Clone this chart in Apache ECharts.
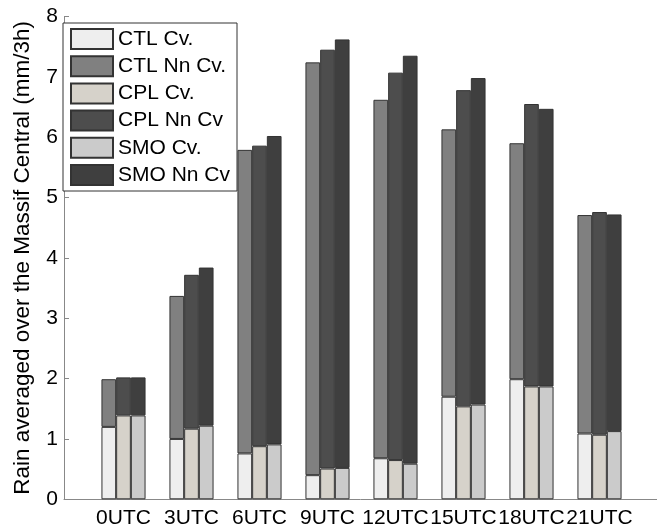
<!DOCTYPE html>
<html>
<head>
<meta charset="utf-8">
<script src="https://cdn.jsdelivr.net/npm/echarts@6/dist/echarts.min.js"></script>
<style>
html,body{margin:0;padding:0;background:#fff;}
#chart{width:657px;height:530px;}
</style>
</head>
<body>
<div id="chart"></div>
<script>
const categories = ['0UTC','3UTC','6UTC','9UTC','12UTC','15UTC','18UTC','21UTC'];
const yTicks = [0,1,2,3,4,5,6,7,8];
const ctlCv = [1.20, 1.00, 0.76, 0.40, 0.68, 1.70, 1.99, 1.09];
const ctlNnCv = [0.79, 2.37, 5.03, 6.84, 5.94, 4.43, 3.91, 3.62];
const cplCv = [1.39, 1.17, 0.88, 0.51, 0.65, 1.54, 1.87, 1.07];
const cplNnCv = [0.63, 2.55, 4.98, 6.94, 6.42, 5.24, 4.68, 3.69];
const smoCv = [1.39, 1.22, 0.91, 0.52, 0.59, 1.57, 1.87, 1.13];
const smoNnCv = [0.63, 2.62, 5.11, 7.10, 6.76, 5.41, 4.60, 3.59];

const FONT = 'Liberation Sans, Arial, Helvetica, sans-serif';
const chart = echarts.init(document.getElementById('chart'), null, {renderer:'canvas'});

function bar(name, stack, data, color){
  return {
    name: name, type: 'bar', stack: stack, data: data,
    xAxisIndex: 1, yAxisIndex: 1,
    barWidth: 14.7, barGap: '0%',
    itemStyle: {color: color, borderColor: '#333', borderWidth: 1},
    emphasis: {disabled: true}
  };
}

chart.setOption({
  animation: false,
  backgroundColor: '#fff',
  textStyle: {fontFamily: FONT},
  grid: [
    {left: 64, right: 0, top: 16.5, bottom: 30.7},
    {left: 89.5, right: 23.5, top: 16.5, bottom: 30.7}
  ],
  legend: {
    orient: 'vertical', left: 63, top: 23,
    itemWidth: 42, itemHeight: 20, itemGap: 5.2,
    padding: [5, 7, 5, 7],
    borderColor: '#333', borderWidth: 1, backgroundColor: '#fff',
    textStyle: {fontSize: 21, color: '#000', fontFamily: FONT, lineHeight: 20},
    icon: 'rect',
    data: ['CTL Cv.','CTL Nn Cv.','CPL Cv.','CPL Nn Cv','SMO Cv.','SMO Nn Cv']
  },
  xAxis: [
    {type: 'value', gridIndex: 0, min: 0, max: 1,
     axisLine: {show: true, lineStyle: {color: '#888', width: 1}},
     axisTick: {show: false}, axisLabel: {show: false}, splitLine: {show: false}},
    {type: 'category', gridIndex: 1, data: categories,
     axisLine: {show: false}, axisTick: {show: false},
     axisLabel: {interval: 0, fontSize: 21, color: '#000', margin: 8, fontFamily: FONT}}
  ],
  yAxis: [
    {type: 'value', gridIndex: 0, min: yTicks[0], max: yTicks[yTicks.length-1], interval: 1,
     name: 'Rain averaged over the Massif Central (mm/3h)',
     nameLocation: 'middle', nameGap: 30,
     nameTextStyle: {fontSize: 22.5, color: '#000', fontFamily: FONT},
     axisLine: {show: true, lineStyle: {color: '#888', width: 1}},
     axisTick: {show: true, inside: true, length: 5, lineStyle: {color: '#888'}},
     axisLabel: {fontSize: 21, color: '#000', margin: 6, fontFamily: FONT},
     splitLine: {show: false}},
    {type: 'value', gridIndex: 1, min: 0, max: 8, show: false}
  ],
  series: [
    bar('CTL Cv.', 'CTL', ctlCv, '#eeeeee'),
    bar('CTL Nn Cv.', 'CTL', ctlNnCv, '#808080'),
    bar('CPL Cv.', 'CPL', cplCv, '#d6d2ca'),
    bar('CPL Nn Cv', 'CPL', cplNnCv, '#4d4d4d'),
    bar('SMO Cv.', 'SMO', smoCv, '#cbcbcb'),
    bar('SMO Nn Cv', 'SMO', smoNnCv, '#3f3f3f')
  ]
});
</script>
</body>
</html>
